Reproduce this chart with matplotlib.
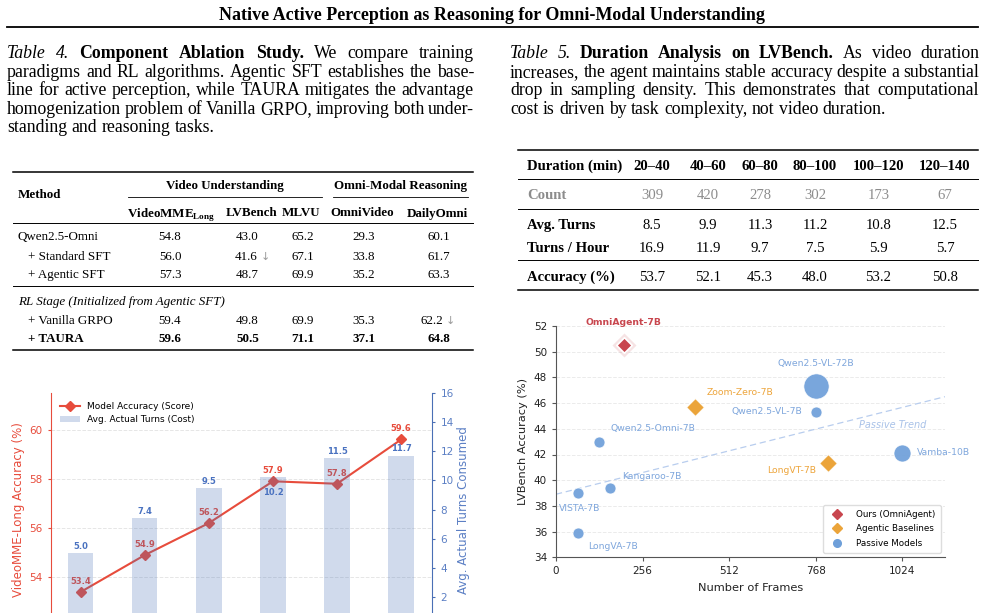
import numpy as np
import matplotlib
matplotlib.use('Agg')
from matplotlib import pyplot as plt
from matplotlib.lines import Line2D

W, H = 985, 613
SERIF = ['Liberation Serif', 'DejaVu Serif']
plt.rcParams['font.family'] = ['DejaVu Sans']
plt.rcParams['mathtext.fontset'] = 'custom'
plt.rcParams['mathtext.rm'] = 'Liberation Serif'
plt.rcParams['mathtext.bf'] = 'Liberation Serif:bold'

# ---------------- data ----------------
title = 'Native Active Perception as Reasoning for Omni-Modal Understanding'

cap4 = [
    [('Table 4.', 'i'), ('Component Ablation Study.', 'b'), ('We compare training', 'r')],
    [('paradigms and RL algorithms. Agentic SFT establishes the base-', 'r')],
    [('line for active perception, while TAURA mitigates the advantage', 'r')],
    [('homogenization problem of Vanilla GRPO, improving both under-', 'r')],
    [('standing and reasoning tasks.', 'r')],
]
cap5 = [
    [('Table 5.', 'i'), ('Duration Analysis on LVBench.', 'b'), ('As video duration', 'r')],
    [('increases, the agent maintains stable accuracy despite a substantial', 'r')],
    [('drop in sampling density. This demonstrates that computational', 'r')],
    [('cost is driven by task complexity, not video duration.', 'r')],
]

# Table 4
t4_methods = ['Qwen2.5-Omni', '+ Standard SFT', '+ Agentic SFT', '+ Vanilla GRPO', '+ TAURA']
t4_cols = [r'$\mathbf{VideoMME}_{\mathbf{Long}}$', 'LVBench', 'MLVU', 'OmniVideo', 'DailyOmni']
t4_videomme = [54.8, 56.0, 57.3, 59.4, 59.6]
t4_lvbench = [43.0, 41.6, 48.7, 49.8, 50.5]
t4_mlvu = [65.2, 67.1, 69.9, 69.9, 71.1]
t4_omnivideo = [29.3, 33.8, 35.2, 35.3, 37.1]
t4_dailyomni = [60.1, 61.7, 63.3, 62.2, 64.8]
t4_drops = [(1, 1), (3, 4)]   # (row, col) with a drop arrow

# Table 5
t5_bins = ['20–40', '40–60', '60–80', '80–100', '100–120', '120–140']
t5_count = [309, 420, 278, 302, 173, 67]
t5_turns = [8.5, 9.9, 11.3, 11.2, 10.8, 12.5]
t5_turns_hour = [16.9, 11.9, 9.7, 7.5, 5.9, 5.7]
t5_acc = [53.7, 52.1, 45.3, 48.0, 53.2, 50.8]

# accuracy vs turns chart
acc = [53.4, 54.9, 56.2, 57.9, 57.8, 59.6]
turns = [5.0, 7.4, 9.5, 10.2, 11.5, 11.7]

# LVBench scatter
models = ['OmniAgent-7B', 'Zoom-Zero-7B', 'LongVT-7B', 'Qwen2.5-VL-72B', 'Qwen2.5-VL-7B',
          'Qwen2.5-Omni-7B', 'Vamba-10B', 'Kangaroo-7B', 'VISTA-7B', 'LongVA-7B']
groups = ['ours', 'agentic', 'agentic', 'passive', 'passive',
          'passive', 'passive', 'passive', 'passive', 'passive']
frames = [200, 410, 805, 768, 768, 128, 1024, 160, 64, 64]
lvb_acc = [50.5, 45.7, 41.3, 47.3, 45.3, 43.0, 42.1, 39.4, 39.0, 35.9]

# ---------------- helpers ----------------
fig = plt.figure(figsize=(W / 100, H / 100), dpi=100)
fig.patch.set_facecolor('white')
rend = fig.canvas.get_renderer()


def P(x, y):
    return x / W, 1 - y / H


def txt(x, y, s, size, ha='left', weight='normal', style='normal', color='black', family=SERIF):
    return fig.text(*P(x, y), s, fontsize=size, ha=ha, va='baseline', fontweight=weight,
                    fontstyle=style, color=color, family=family)


def hline(y, x0, x1, lw):
    fig.add_artist(Line2D([x0 / W, x1 / W], [1 - y / H] * 2, transform=fig.transFigure,
                          color='black', lw=lw))


def para(lines, x0, x1, y0, dy, size):
    # justified paragraph, last line left aligned
    for i, line in enumerate(lines):
        toks = [(w, st) for seg, st in line for w in seg.split()]
        y = y0 + i * dy
        arts = [txt(x0, y, w, size, weight='bold' if st == 'b' else 'normal',
                    style='italic' if st == 'i' else 'normal') for w, st in toks]
        ws = [a.get_window_extent(rend).width for a in arts]
        if i < len(lines) - 1:
            gap = (x1 - x0 - sum(ws)) / (len(ws) - 1)
        else:
            gap = size * 0.25 * 100 / 72
        x = x0
        for a, w in zip(arts, ws):
            a.set_x(x / W)
            x += w + gap


# ---------------- page title ----------------
t = txt(492, 19.5, title, 12, ha='center', weight='bold')
t.set_fontsize(12 * 543 / t.get_window_extent(rend).width)
hline(27, 7, 978, 1.3)

# ---------------- captions ----------------
para(cap4, 7, 474, 58.3, 18.5, 12.8)
para(cap5, 510, 979, 58.3, 18.5, 12.8)

# ---------------- Table 4 ----------------
fs4 = 9.4
hline(172, 13, 473, 1.1)
txt(18, 197.5, 'Method', fs4, weight='bold')
txt(225, 189.5, 'Video Understanding', fs4, ha='center', weight='bold')
txt(400.5, 189.5, 'Omni-Modal Reasoning', fs4, ha='center', weight='bold')
hline(197, 128, 322, 0.6)
hline(197, 333, 468, 0.6)
head_x = [170.8, 252, 300.5, 362, 437.5]
val_x = [170, 247.5, 302.5, 364, 439]
for hx, c in zip(head_x, t4_cols):
    txt(hx, 216.5, c, fs4, ha='center', weight='bold')
hline(223, 13, 473, 0.7)
hline(286, 13, 473, 0.7)
txt(18, 304.5, 'RL Stage (Initialized from Agentic SFT)', fs4, style='italic')
hline(350, 13, 473, 1.1)
row_y = [240.5, 259.5, 277.5, 323.5, 342.5]
cols4 = [t4_videomme, t4_lvbench, t4_mlvu, t4_omnivideo, t4_dailyomni]
for i, name in enumerate(t4_methods):
    w = 'bold' if i == len(t4_methods) - 1 else 'normal'
    txt(18 if i == 0 else 28, row_y[i], name, fs4, weight=w)
    for j, col in enumerate(cols4):
        if (i, j) in t4_drops:
            txt(head_x[j] - 6, row_y[i], f'{col[i]:.1f}', fs4, ha='center', weight=w)
            txt(head_x[j] + 13, row_y[i] + 0.5, '↓', 8, ha='center', color='#9a9a9a',
                family=['DejaVu Sans'])
        else:
            txt(val_x[j], row_y[i], f'{col[i]:.1f}', fs4, ha='center', weight=w)

# ---------------- Table 5 ----------------
fs5 = 10.6
x5 = [652, 708, 760, 815, 878.3, 945]
hline(150, 518, 978, 1.1)
txt(527, 170, 'Duration (min)', fs5, weight='bold')
for xx, b in zip(x5, t5_bins):
    txt(xx, 170, b, fs5, ha='center', weight='bold')
hline(179, 518, 978, 0.7)
txt(527, 199, 'Count', fs5, color='#8c8c8c', weight='bold')
for xx, v in zip(x5, t5_count):
    txt(xx, 199, str(v), fs5, ha='center', color='#8c8c8c')
hline(209, 518, 978, 0.7)
rows5 = [('Avg. Turns', t5_turns, 229), ('Turns / Hour', t5_turns_hour, 252)]
for lab, vals, yy in rows5:
    txt(527, yy, lab, fs5, weight='bold')
    for xx, v in zip(x5, vals):
        txt(xx, yy, f'{v:.1f}', fs5, ha='center')
hline(260, 518, 978, 0.7)
txt(527, 281, 'Accuracy (%)', fs5, weight='bold')
for xx, v in zip(x5, t5_acc):
    txt(xx, 281, f'{v:.1f}', fs5, ha='center')
hline(290, 518, 978, 1.1)

# ---------------- accuracy vs turns chart ----------------
RED = '#e74c3c'
BLUE = '#4a6fb5'
ax1 = fig.add_axes([51 / W, 1 - 626.5 / H, 381 / W, 233.8 / H])
ax2 = ax1.twinx()
x = np.arange(len(acc))
ax1.set_xlim(-0.46, 5.48)
ax1.set_ylim(52, 61.5)
ax2.set_ylim(0, 16)
ax1.set_yticks([54, 56, 58, 60])
ax2.set_yticks(range(2, 17, 2))
ax1.grid(axis='y', ls='--', color='#e6e6e6', lw=0.7)
ax1.set_axisbelow(True)
line, = ax1.plot(x, acc, color=RED, lw=1.5, marker='D', ms=5, zorder=3,
                 label='Model Accuracy (Score)')
for xi, v in zip(x, acc):
    ax1.annotate(f'{v:.1f}', (xi, v), xytext=(0, 4.5), textcoords='offset points',
                 ha='center', va='bottom', fontsize=6, fontweight='bold', color=RED)
bars = ax2.bar(x, turns, width=0.4, color='#4a72b8', alpha=0.26,
               label='Avg. Actual Turns (Cost)')
for xi, v in zip(x, turns):
    below = v == 10.2   # label would hit the accuracy marker, so it sits inside the bar
    ax2.annotate(f'{v:.1f}', (xi, v), xytext=(0, -7.5 if below else 1.5),
                 textcoords='offset points', ha='center',
                 va='top' if below else 'bottom', fontsize=6, fontweight='bold',
                 color='#4a72c0')
for a in (ax1, ax2):
    a.spines['top'].set_visible(False)
    a.set_xticks([])
ax1.spines['right'].set_visible(False)
ax2.spines['left'].set_visible(False)
ax1.spines['left'].set_color(RED)
ax2.spines['right'].set_color(BLUE)
ax1.tick_params(axis='y', colors=RED, labelsize=7.5, length=2.5, width=0.8)
ax2.tick_params(axis='y', colors=BLUE, labelcolor='#5b7fc4', labelsize=7.5, length=2.5, width=0.8)
ax1.set_ylabel('VideoMME-Long Accuracy (%)', color=RED, fontsize=8.5, labelpad=3.5)
ax2.set_ylabel('Avg. Actual Turns Consumed', color='#5b7fc4', fontsize=8.5, labelpad=2.5)
ax2.legend(handles=[line, bars], loc='upper left', frameon=False, fontsize=6.5,
           bbox_to_anchor=(0.0, 1.0), handlelength=2.2, borderaxespad=0.6)

# ---------------- LVBench scatter ----------------
ax3 = fig.add_axes([556 / W, 1 - 557.3 / H, 389 / W, 231.3 / H])
ax3.set_xlim(0, 1150)
ax3.set_ylim(34, 52)
ax3.set_xticks([0, 256, 512, 768, 1024])
ax3.set_yticks(range(34, 53, 2))
ax3.grid(axis='y', ls='--', color='#ebebeb', lw=0.7)
ax3.set_axisbelow(True)
for s in ('top', 'right'):
    ax3.spines[s].set_visible(False)
for s in ('left', 'bottom'):
    ax3.spines[s].set_color('#555555')
    ax3.spines[s].set_linewidth(0.8)
ax3.tick_params(labelsize=7.5, length=3, width=0.8, color='#555555', labelcolor='#222222')
ax3.set_xlabel('Number of Frames', fontsize=8.2, labelpad=5, color='#222222')
ax3.set_ylabel('LVBench Accuracy (%)', fontsize=8.2, labelpad=4, color='#222222')

fx = np.array(frames, dtype=float)
fy = np.array(lvb_acc)
grp = np.array(groups)
pas = grp == 'passive'
k, b = np.polyfit(fx[pas], fy[pas], 1)
xs = np.array(ax3.get_xlim())
ax3.plot(xs, k * xs + b, ls=(0, (5, 3)), color='#b8cdee', lw=0.9, zorder=1)
ax3.text(996, 44.3, 'Passive Trend', fontsize=7, style='italic', color='#a9c2e8',
         ha='center', va='center')

C_PAS, C_AG, C_OUR = '#6e9fd9', '#eba43a', '#c8464e'
dot_size = {7: 62, 10: 150, 72: 330}
params = [int(m.split('-')[-1][:-1]) for m in models]
for i, g in enumerate(groups):
    if g == 'passive':
        ax3.scatter(fx[i], fy[i], s=dot_size[params[i]], color=C_PAS, alpha=0.92,
                    edgecolor='white', lw=0.5, zorder=3)
    elif g == 'agentic':
        ax3.scatter(fx[i], fy[i], s=80, marker='D', color=C_AG, edgecolor='white',
                    lw=0.6, zorder=3)
    else:
        ax3.scatter(fx[i], fy[i], s=150, marker='D', color=C_OUR, alpha=0.15,
                    lw=0, zorder=3)
        ax3.scatter(fx[i], fy[i], s=62, marker='D', color=C_OUR, edgecolor='white',
                    lw=1.2, zorder=4)

# label placement (ha, dx, dy) in pixels
lab_pos = [('center', 0, 22.7), ('left', 11.7, 14), ('right', -12.6, -6.7),
           ('center', 0, 23.3), ('right', -13.3, 0.6), ('left', 11, 12.7),
           ('left', 15, 0.6), ('left', 11.6, 11), ('center', 2.2, -15.4),
           ('left', 10.7, -13.3)]
lab_col = {'passive': '#7ea6dc', 'agentic': '#eda53c', 'ours': C_OUR}
for i, m in enumerate(models):
    ha, dx, dy = lab_pos[i]
    ax3.annotate(m, (fx[i], fy[i]), xytext=(dx * 0.72, dy * 0.72),
                 textcoords='offset points', ha=ha, va='center', fontsize=6.7,
                 color=lab_col[groups[i]],
                 fontweight='bold' if groups[i] == 'ours' else 'normal',
                 annotation_clip=False)

handles = [Line2D([], [], ls='none', marker='D', ms=5, color=C_OUR, label='Ours (OmniAgent)'),
           Line2D([], [], ls='none', marker='D', ms=5, color=C_AG, label='Agentic Baselines'),
           Line2D([], [], ls='none', marker='o', ms=5.5, color=C_PAS, label='Passive Models')]
leg = ax3.legend(handles=handles, loc='lower right', fontsize=6.3, frameon=True,
                 edgecolor='#dddddd', framealpha=1, borderaxespad=0.5, handletextpad=1.2,
                 labelspacing=0.6, borderpad=0.6)

fig.savefig('out.png', dpi=100)
